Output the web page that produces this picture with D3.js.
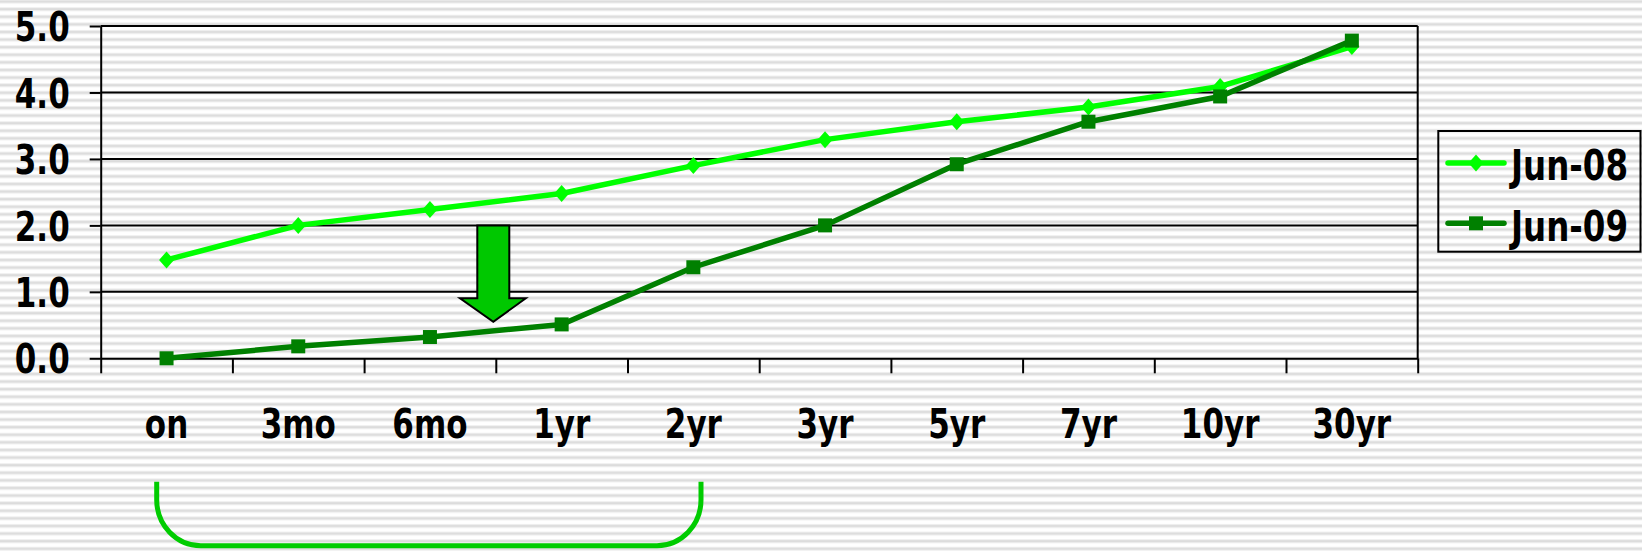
<!DOCTYPE html>
<html>
<head>
<meta charset="utf-8">
<script src="https://cdn.jsdelivr.net/npm/d3@7"></script>
<style>
html,body{margin:0;padding:0;background:#fff;}
svg{display:block;}
text{font-family:"DejaVu Sans",Verdana,sans-serif;font-weight:bold;fill:#000;}
</style>
</head>
<body>
<svg id="chart" width="1642" height="551"></svg>
<script>
// ---- data ----
const categories = ["on","3mo","6mo","1yr","2yr","3yr","5yr","7yr","10yr","30yr"];
const jun08 = [1.48, 2.0, 2.24, 2.48, 2.9, 3.29, 3.56, 3.78, 4.09, 4.69];
const jun09 = [0.0, 0.18, 0.32, 0.51, 1.37, 2.0, 2.92, 3.56, 3.94, 4.78];
const seriesNames = ["Jun-08","Jun-09"];
const yTicks = [0,1,2,3,4,5];

(function(){
const W = 1642, H = 551;
const svg = d3.select("#chart");

// background stripes
const defs = svg.append("defs");
const pat = defs.append("pattern").attr("id","stripes")
  .attr("patternUnits","userSpaceOnUse").attr("x",0).attr("y",-2.4)
  .attr("width",8).attr("height",7.6);
pat.append("rect").attr("width",8).attr("height",7.6).attr("fill","#ffffff");
pat.append("rect").attr("y",2).attr("width",8).attr("height",4).attr("fill","#efefef");
pat.append("rect").attr("y",3).attr("width",8).attr("height",2).attr("fill","#dcdcdc");
svg.append("rect").attr("width",W).attr("height",H).attr("fill","url(#stripes)");

const pL = 100.7, pR = 1417.7, pT = 26, pB = 358.3;
const y = d3.scaleLinear().domain([0,5]).range([pB, pT]);
const xb = d3.scaleBand().domain(categories).range([pL, pR]).padding(0);
const xl = d3.scaleLinear().domain([0, categories.length]).range([pL, pR]);
const FS = 31, SY = 1.3;

// gridlines
svg.append("g").selectAll("line").data(yTicks.filter(d=>d>0)).join("line")
  .attr("x1", pL).attr("x2", pR)
  .attr("y1", d=>y(d)).attr("y2", d=>y(d))
  .attr("stroke","#000").attr("stroke-width",2);
// right border
svg.append("line").attr("x1",pR).attr("x2",pR).attr("y1",pT).attr("y2",pB)
  .attr("stroke","#000").attr("stroke-width",2);

// y axis
const yAxis = svg.append("g").attr("transform",`translate(${pL},0)`)
  .call(d3.axisLeft(y).tickValues(yTicks).tickFormat(d3.format(".1f"))
    .tickSize(11).tickSizeOuter(0).tickPadding(20));
yAxis.selectAll("path,line").attr("stroke","#000").attr("stroke-width",2);
yAxis.selectAll("text").each(function(){
  const t = d3.select(this);
  const xx = +t.attr("x");
  t.attr("x",0).attr("y",0).attr("dy","0.3645em")
   .attr("transform",`translate(${xx},0) scale(1,${SY})`)
   .style("font-size",FS+"px");
});

// x axis ticks at band boundaries
const xTickAxis = svg.append("g").attr("transform",`translate(0,${pB})`)
  .call(d3.axisBottom(xl).tickValues(d3.range(0, categories.length+1))
    .tickFormat("").tickSize(15).tickSizeOuter(0));
xTickAxis.selectAll("path,line").attr("stroke","#000").attr("stroke-width",2);

// x labels
const xLab = svg.append("g").attr("transform",`translate(0,${pB})`)
  .call(d3.axisBottom(xb).tickSize(0).tickPadding(0));
xLab.select(".domain").remove();
xLab.selectAll("text").attr("y",0).attr("dy",null)
  .attr("transform",`translate(0,80) scale(1,${SY})`)
  .style("font-size",FS+"px");

// lines
const colors = ["#00ff00","#008000"];
const allSeries = [jun08, jun09];
const line = d3.line().x((d,i)=>xb(categories[i]) + xb.bandwidth()/2).y(d=>y(d));
const SQ = 14;

function diamondPath(cx, cy){
  const hw = 7.5, hh = 8.5;
  return `M${cx},${cy-hh}L${cx+hw},${cy}L${cx},${cy+hh}L${cx-hw},${cy}Z`;
}

allSeries.forEach((vals, si) => {
  const g = svg.append("g");
  g.append("path").datum(vals).attr("d", line)
    .attr("fill","none").attr("stroke",colors[si]).attr("stroke-width",5.5)
    .attr("stroke-linejoin","round");
  if (si === 0) {
    g.selectAll("path.m").data(vals).join("path").attr("class","m")
      .attr("d",(d,i)=>diamondPath(xb(categories[i])+xb.bandwidth()/2, y(d)))
      .attr("fill",colors[si]);
  } else {
    g.selectAll("rect").data(vals).join("rect")
      .attr("x",(d,i)=>xb(categories[i])+xb.bandwidth()/2-SQ/2)
      .attr("y",d=>y(d)-SQ/2).attr("width",SQ).attr("height",SQ)
      .attr("fill",colors[si]);
  }
});

// arrow annotation
const ax = 493.3;
const arrowPts = [
  [ax-16, y(2.0)], [ax+16, y(2.0)], [ax+16, 298.3], [ax+32.5, 298.3],
  [ax, 321.7], [ax-33.3, 298.3], [ax-16, 298.3]
];
svg.append("polygon").attr("points", arrowPts.map(p=>p.join(",")).join(" "))
  .attr("fill","#00c800").attr("stroke","#000").attr("stroke-width",2)
  .attr("stroke-linejoin","miter");

// bracket annotation
const bx1 = 156.7, bx2 = 701, by1 = 481.7, by2 = 545.7, rx = 44, ry = 46;
svg.append("path")
  .attr("d", `M${bx1},${by1} V${by2-ry} A${rx},${ry} 0 0 0 ${bx1+rx},${by2} H${bx2-rx} A${rx},${ry} 0 0 0 ${bx2},${by2-ry} V${by1}`)
  .attr("fill","none").attr("stroke","#00cc00").attr("stroke-width",5);

// legend
const lg = svg.append("g");
lg.append("rect").attr("x",1438.3).attr("y",131).attr("width",202.2).attr("height",120.7)
  .attr("fill","none").attr("stroke","#000").attr("stroke-width",2);
const legY = [163, 223.3];
seriesNames.forEach((name, si) => {
  const cy = legY[si];
  lg.append("line").attr("x1",1448).attr("x2",1504).attr("y1",cy).attr("y2",cy)
    .attr("stroke",colors[si]).attr("stroke-width",5.5).attr("stroke-linecap","round");
  if (si === 0) {
    lg.append("path").attr("d", diamondPath(1476, cy)).attr("fill",colors[si]);
  } else {
    lg.append("rect").attr("x",1476-SQ/2).attr("y",cy-SQ/2).attr("width",SQ).attr("height",SQ)
      .attr("fill",colors[si]);
  }
  lg.append("text").text(name)
    .attr("x",0).attr("y",0).attr("dy","0.3645em")
    .attr("transform",`translate(1511,${cy+2}) scale(1,${SY})`)
    .style("font-size","32.5px");
});
})();
</script>
</body>
</html>
